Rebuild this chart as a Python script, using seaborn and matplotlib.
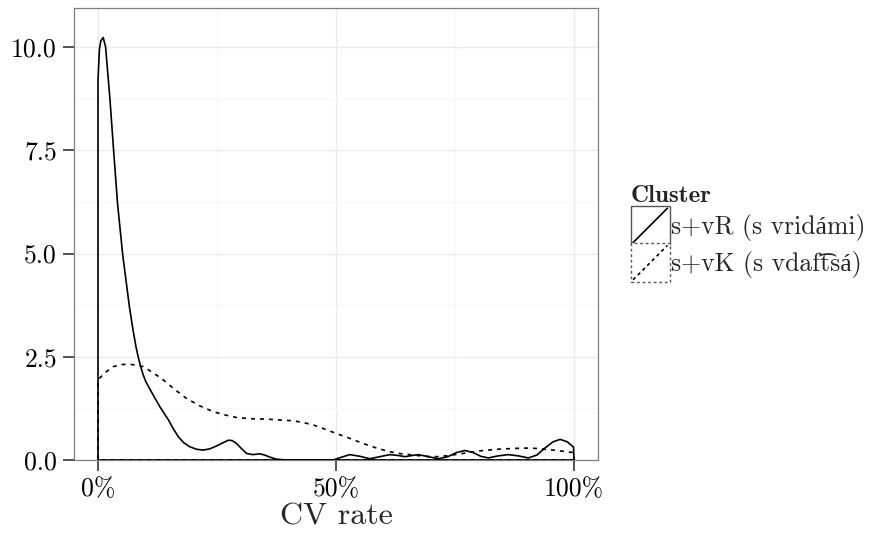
import matplotlib
matplotlib.use("Agg")
import matplotlib.pyplot as plt
import seaborn as sns
import pandas as pd
from matplotlib.legend_handler import HandlerBase
from matplotlib.patches import Rectangle
from matplotlib.lines import Line2D

# ---- data (outline of each density polygon) ----
vr_x = [100, 0, 0, 0.3, 0.6, 1.1, 1.6, 2.0, 2.5, 3.3, 4.1, 5.2, 6.6, 7.4, 8.0, 8.5, 9.0, 9.5,
        10.0, 10.6, 11.8, 13.0, 14.8, 15.8, 16.9, 18.0, 19.3, 20.7, 22.1, 23.5, 24.9, 26.3,
        27.4, 28.2, 29.1, 30.2, 31.2, 32.5, 34.0, 35.0, 36.1, 37.5, 39.0, 40.0, 49.4, 51.2,
        52.9, 55.0, 57.1, 59.2, 61.3, 63.0, 64.5, 66.0, 67.3, 69.4, 71.5, 73.5, 75.3, 77.1,
        78.8, 80.4, 82.0, 84.1, 86.2, 88.3, 90.4, 92.2, 94.0, 95.6, 97.1, 98.6, 99.9, 100]
vr_y = [0, 0, 9.2, 9.95, 10.15, 10.23, 10.0, 9.45, 8.75, 7.47, 6.22, 4.96, 3.71, 3.12, 2.73, 2.47, 2.25, 2.06,
        1.91, 1.78, 1.53, 1.29, 0.97, 0.76, 0.56, 0.42, 0.32, 0.26, 0.24, 0.27, 0.34, 0.42,
        0.48, 0.47, 0.40, 0.27, 0.16, 0.13, 0.15, 0.12, 0.07, 0.02, 0.005, 0.0, 0.0, 0.07,
        0.13, 0.09, 0.03, 0.08, 0.13, 0.11, 0.08, 0.11, 0.13, 0.08, 0.03, 0.08, 0.18, 0.23,
        0.18, 0.09, 0.05, 0.10, 0.13, 0.10, 0.05, 0.12, 0.30, 0.44, 0.50, 0.44, 0.31, 0]

vk_x = [100, 0, 0, 1.0, 2.0, 3.2, 4.8, 6.4, 8.0, 9.5, 11.5, 13.7, 16.0, 18.6, 21.4, 24.2,
        26.7, 29.1, 32.0, 35.4, 38.0, 41.0, 43.0, 45.2, 47.6, 50.1, 53.0, 55.7, 58.5, 61.3,
        63.8, 66.2, 68.6, 71.1, 73.9, 76.7, 80.2, 83.8, 87.3, 90.8, 93.2, 95.6, 97.8, 99.9, 100]
vk_y = [0, 0, 1.94, 2.06, 2.16, 2.26, 2.31, 2.32, 2.30, 2.26, 2.12, 1.94, 1.72, 1.49, 1.31, 1.17,
        1.09, 1.03, 1.00, 0.99, 0.97, 0.95, 0.91, 0.85, 0.75, 0.64, 0.52, 0.40, 0.29, 0.20,
        0.15, 0.12, 0.09, 0.08, 0.11, 0.16, 0.22, 0.26, 0.28, 0.29, 0.27, 0.24, 0.21, 0.18, 0]

clusters = ["s+vR (s vridámi)", "s+vK (s vdaf\u0361tsá)"]
x_ticks = [0, 50, 100]
x_labels = ["0%", "50%", "100%"]
y_ticks = [0.0, 2.5, 5.0, 7.5, 10.0]
y_labels = ["0.0", "2.5", "5.0", "7.5", "10.0"]

df = pd.concat([
    pd.DataFrame({"rate": vr_x, "density": vr_y, "Cluster": clusters[0]}),
    pd.DataFrame({"rate": vk_x, "density": vk_y, "Cluster": clusters[1]}),
])

sns.set_theme(style="white")
plt.rcParams["font.family"] = ["cmr10", "Liberation Serif", "DejaVu Serif"]
plt.rcParams["axes.formatter.use_mathtext"] = True
plt.rcParams["axes.unicode_minus"] = False

W, H = 871, 533
fig = plt.figure(figsize=(W / 100, H / 100), dpi=100)
ax = fig.add_axes([74 / W, (H - 460) / H, (598 - 74) / W, (460 - 8) / H])

styles = {clusters[0]: "-", clusters[1]: (0, (2.4, 3.0))}
for c in clusters:
    sub = df[df["Cluster"] == c]
    sns.lineplot(data=sub, x="rate", y="density", sort=False, estimator=None,
                 color="black", lw=1.2, ax=ax, legend=False, zorder=3)
    ax.lines[-1].set_linestyle(styles[c])
    ax.lines[-1].set_solid_joinstyle("round")

ax.set_xlim(-5.04, 105.04)
ax.set_ylim(0, (460 - 8) / 41.3)
ax.set_xticks(x_ticks)
ax.set_xticklabels(x_labels)
ax.set_yticks(y_ticks)
ax.set_yticklabels(y_labels)
ax.set_xticks([25, 75], minor=True)
ax.set_yticks([1.25, 3.75, 6.25, 8.75], minor=True)
ax.grid(True, which="major", color="#EBEBEB", lw=1.0, zorder=0)
ax.grid(True, which="minor", color="#F7F7F7", lw=0.8, zorder=0)
ax.set_axisbelow(True)
ax.tick_params(axis="both", which="major", length=7.8, width=1.2, color="#333333",
               labelsize=18.5, labelcolor="black", pad=4.5, direction="out",
               bottom=True, left=True)
ax.tick_params(axis="both", which="minor", length=0)
for s in ax.spines.values():
    s.set_color("#7F7F7F")
    s.set_linewidth(0.9)
ax.set_xlabel("CV rate", fontsize=23, labelpad=1.5)
ax.set_ylabel("")


class BoxDiag(HandlerBase):
    def __init__(self, ls):
        super().__init__()
        self.ls = ls

    def create_artists(self, legend, orig_handle, xdescent, ydescent, width, height, fontsize, trans):
        side = width
        x0 = -xdescent
        y0 = -ydescent + height / 2 - side / 2
        r = Rectangle((x0, y0), side, side, facecolor="white",
                      edgecolor="#555555", lw=1.0, linestyle=self.ls, transform=trans)
        l = Line2D([x0 + 1.5, x0 + side - 1.5], [y0 + 1.5, y0 + side - 1.5],
                   color="black", lw=1.2, linestyle=self.ls, transform=trans)
        return [r, l]


h1 = Line2D([], [])
h2 = Line2D([], [])
leg = fig.legend([h1, h2], clusters, loc="center left", bbox_to_anchor=(631 / W, 1 - 233 / H),
                 frameon=False, fontsize=18.5, title="Cluster",
                 title_fontproperties={"family": "cmb10", "size": 18},
                 handler_map={h1: BoxDiag("-"), h2: BoxDiag((0, (2, 2)))},
                 handlelength=1.5, handleheight=1.85, labelspacing=0.0,
                 handletextpad=0.05, borderpad=0, borderaxespad=0, alignment="left")

fig.savefig("out.png", dpi=100)
